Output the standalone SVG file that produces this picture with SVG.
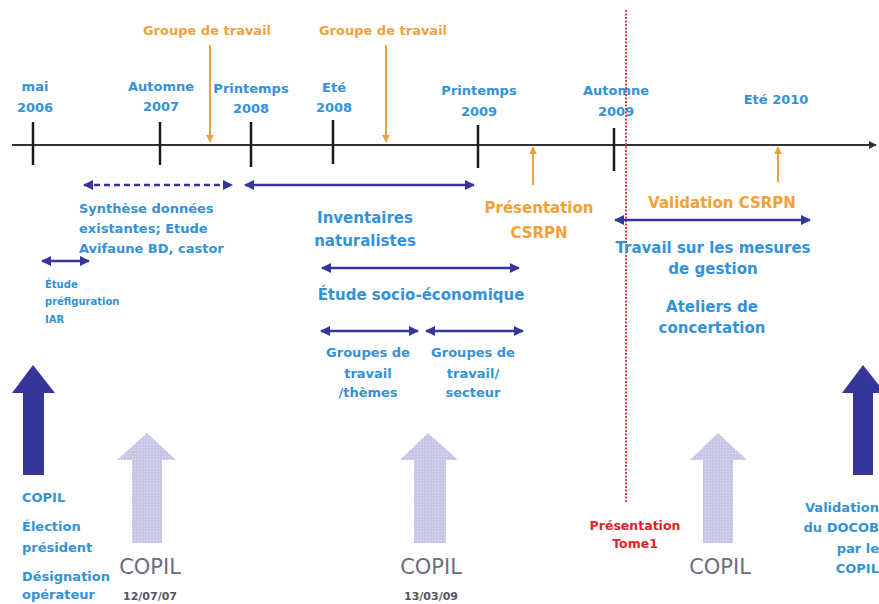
<svg xmlns="http://www.w3.org/2000/svg" width="879" height="604" viewBox="0 0 879 604">
<defs>
<style>
text{font-family:"DejaVu Sans","Liberation Sans",sans-serif;font-weight:bold}
.b{fill:#3392d8;font-size:13px}
.bl{fill:#3392d8;font-size:15px}
.bs{fill:#3392d8;font-size:10px}
.o{fill:#f3a03a;font-size:13px}
.ol{fill:#f3a03a;font-size:15px}
.r{fill:#e2242a;font-size:12.5px}
.g{fill:#6c6c80;font-size:21px;font-weight:normal}
.d{fill:#555560;font-size:11px}
.m{text-anchor:middle}
.e{text-anchor:end}
.tick{stroke:#1a1a1a;stroke-width:2.5}
.dbl{stroke:#35359c;stroke-width:2.5;fill:none;marker-start:url(#ah);marker-end:url(#ah)}
.oa{stroke:#f3a03a;stroke-width:2;fill:none;marker-end:url(#oh)}
</style>
<marker id="ah" viewBox="0 0 10 10" refX="9" refY="5" markerWidth="4" markerHeight="4" orient="auto-start-reverse" markerUnits="strokeWidth">
<path d="M0,0 L10,5 L0,10 z" fill="#35359c"/>
</marker>
<marker id="oh" viewBox="0 0 10 10" refX="9" refY="5" markerWidth="4" markerHeight="4" orient="auto" markerUnits="strokeWidth">
<path d="M0,0 L10,5 L0,10 z" fill="#f3a03a"/>
</marker>
<marker id="th" viewBox="0 0 10 10" refX="9" refY="5" markerWidth="4" markerHeight="4" orient="auto" markerUnits="strokeWidth">
<path d="M0,0 L10,5 L0,10 z" fill="#333"/>
</marker>
<pattern id="grid" width="3" height="3" patternUnits="userSpaceOnUse">
<rect width="3" height="3" fill="#c6c6e6"/>
<rect width="1" height="1" fill="#e0e0f2"/>
</pattern>
</defs>
<rect width="879" height="604" fill="#ffffff"/>

<g id="timeline">
<line x1="12" y1="145" x2="876" y2="145" stroke="#333" stroke-width="2" marker-end="url(#th)"/>
<line class="tick" x1="33" y1="122" x2="33" y2="165"/>
<line class="tick" x1="160" y1="122" x2="160" y2="165"/>
<line class="tick" x1="251" y1="122" x2="251" y2="167"/>
<line class="tick" x1="333" y1="120" x2="333" y2="164"/>
<line class="tick" x1="478" y1="125" x2="478" y2="168"/>
<line class="tick" x1="614" y1="128" x2="614" y2="171"/>
</g>

<g id="dates">
<text class="b m" x="35" y="91">mai</text>
<text class="b m" x="35" y="112">2006</text>
<text class="b m" x="161" y="91">Automne</text>
<text class="b m" x="161" y="111">2007</text>
<text class="b m" x="251" y="93">Printemps</text>
<text class="b m" x="251" y="113">2008</text>
<text class="b m" x="334" y="92">Eté</text>
<text class="b m" x="334" y="112">2008</text>
<text class="b m" x="479" y="95">Printemps</text>
<text class="b m" x="479" y="116">2009</text>
<text class="b m" x="616" y="95">Automne</text>
<text class="b m" x="616" y="116">2009</text>
<text class="b m" x="776" y="104">Eté 2010</text>
</g>

<g id="red-line">
<line x1="626" y1="10" x2="626" y2="503" stroke="#e04048" stroke-width="2" stroke-dasharray="2,1.5"/>
</g>

<g id="groupe-travail-1">
<text class="o m" x="207" y="35">Groupe de travail</text>
</g>
<g id="groupe-travail-2">
<text class="o m" x="383" y="35">Groupe de travail</text>
</g>

<g id="connectors">
<line class="oa" x1="210" y1="45" x2="210" y2="142"/>
<line class="oa" x1="386" y1="45" x2="386" y2="142"/>
<line class="oa" x1="533" y1="185" x2="533" y2="147"/>
<line class="oa" x1="778" y1="182" x2="778" y2="147"/>
<line class="dbl" x1="84" y1="185" x2="232" y2="185" stroke-dasharray="6,4"/>
<line class="dbl" x1="245" y1="185" x2="474" y2="185"/>
<line class="dbl" x1="42" y1="261" x2="89" y2="261"/>
<line class="dbl" x1="322" y1="268" x2="519" y2="268"/>
<line class="dbl" x1="321" y1="331" x2="418" y2="331"/>
<line class="dbl" x1="426" y1="331" x2="523" y2="331"/>
<line class="dbl" x1="615" y1="220" x2="810" y2="220"/>
</g>

<g id="synthese">
<text class="b" x="79" y="213">Synthèse données</text>
<text class="b" x="79" y="233">existantes; Etude</text>
<text class="b" x="79" y="253">Avifaune BD, castor</text>
</g>
<g id="etude-iar">
<text class="bs" x="45" y="288">Étude</text>
<text class="bs" x="45" y="305">préfiguration</text>
<text class="bs" x="45" y="323">IAR</text>
</g>
<g id="inventaires">
<text class="bl m" x="365" y="223">Inventaires</text>
<text class="bl m" x="365" y="246">naturalistes</text>
</g>
<g id="presentation-csrpn">
<text class="ol m" x="539" y="213">Présentation</text>
<text class="ol m" x="539" y="238">CSRPN</text>
</g>
<g id="socio">
<text class="bl m" x="421" y="300">Étude socio-économique</text>
</g>
<g id="gt-themes">
<text class="b m" x="368" y="357">Groupes de</text>
<text class="b m" x="368" y="378">travail</text>
<text class="b m" x="368" y="397">/thèmes</text>
</g>
<g id="gt-secteur">
<text class="b m" x="473" y="357">Groupes de</text>
<text class="b m" x="473" y="378">travail/</text>
<text class="b m" x="473" y="397">secteur</text>
</g>
<g id="validation-csrpn">
<text class="ol m" x="722" y="208">Validation CSRPN</text>
</g>
<g id="travail-mesures">
<text class="bl m" x="713" y="253">Travail sur les mesures</text>
<text class="bl m" x="713" y="274">de gestion</text>
</g>
<g id="ateliers">
<text class="bl m" x="712" y="312">Ateliers de</text>
<text class="bl m" x="712" y="333">concertation</text>
</g>

<g id="copil-2006">
<path d="M33,365 L55,393 L44,393 L44,475 L23,475 L23,393 L12,393 z" fill="#35359c"/>
<text class="b" x="22" y="502">COPIL</text>
<text class="b" x="22" y="531">Élection</text>
<text class="b" x="22" y="552">président</text>
<text class="b" x="22" y="581">Désignation</text>
<text class="b" x="22" y="599">opérateur</text>
</g>
<g id="copil-120707">
<path d="M147,433 L176,460 L162,460 L162,543 L132,543 L132,460 L117,460 z" fill="url(#grid)"/>
<text class="g m" x="150" y="574">COPIL</text>
<text class="d m" x="150" y="600">12/07/07</text>
</g>
<g id="copil-130309">
<path d="M428,433 L458,460 L446,460 L446,543 L414,543 L414,460 L400,460 z" fill="url(#grid)"/>
<text class="g m" x="431" y="574">COPIL</text>
<text class="d m" x="431" y="600">13/03/09</text>
</g>
<g id="presentation-tome1">
<text class="r m" x="635" y="530">Présentation</text>
<text class="r m" x="635" y="548">Tome1</text>
</g>
<g id="copil-3">
<path d="M718,433 L747,460 L733,460 L733,543 L703,543 L703,460 L690,460 z" fill="url(#grid)"/>
<text class="g m" x="720" y="574">COPIL</text>
</g>
<g id="copil-validation">
<path d="M863,365 L885,393 L873,393 L873,475 L853,475 L853,393 L842,393 z" fill="#35359c"/>
<text class="b e" x="879" y="512">Validation</text>
<text class="b e" x="879" y="532">du DOCOB</text>
<text class="b e" x="879" y="553">par le</text>
<text class="b e" x="879" y="573">COPIL</text>
</g>
</svg>
